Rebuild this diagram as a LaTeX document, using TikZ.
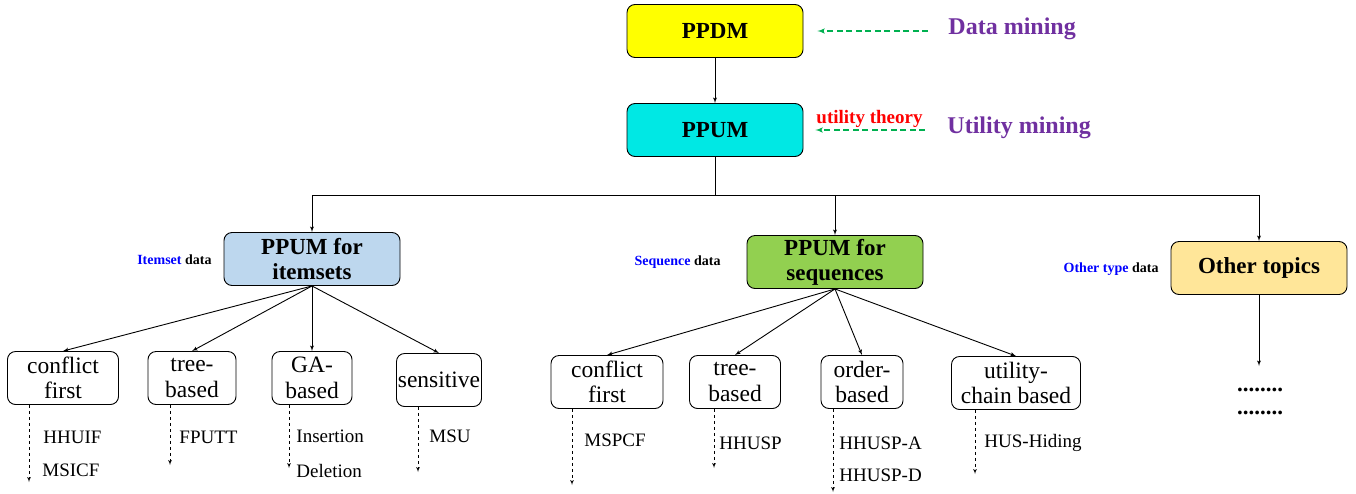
\documentclass[tikz,border=0pt]{standalone}
\usepackage{xcolor}
\usepackage{fontspec}
\setmainfont{Liberation Serif}
\usepackage{tikz}
\usetikzlibrary {positioning}
\usetikzlibrary{arrows}
\definecolor{ppdmyellow}{HTML}{FFFF00}
\definecolor{ppumcyan}{HTML}{00E8E4}
\definecolor{itemblue}{HTML}{BDD7EE}
\definecolor{seqgreen}{HTML}{92D050}
\definecolor{othergold}{HTML}{FFE699}
\definecolor{minepurple}{HTML}{7030A0}
\definecolor{hintgreen}{HTML}{00B050}
\tikzset{tree edge/.style = {->,> = latex'}}
\tikzset{dash edge/.style = {->,> = latex', dashed, line width=0.7pt}}
\tikzset{hint edge/.style = {->,> = latex', hintgreen, line width=1.5pt, dash pattern=on 6pt off 3.5pt}}

\begin{document}
\begin{tikzpicture}[x=1pt,y=-1pt,line width=0.9pt,
    main node/.style={draw,rounded corners=8pt,align=center,inner sep=0pt,minimum width=176pt,minimum height=53pt,font=\bfseries\fontsize{23}{25}\selectfont},
    leaf node/.style={draw,rounded corners=8pt,align=center,inner sep=0pt,minimum height=53pt,font=\fontsize{23.5}{25.5}\selectfont},
    algo/.style={anchor=west,inner sep=0pt,font=\fontsize{19}{21}\selectfont},
    side label/.style={anchor=east,inner sep=0pt,font=\bfseries\fontsize{14}{16}\selectfont},
    mine label/.style={anchor=west,inner sep=0pt,text=minepurple,font=\bfseries\fontsize{24}{26}\selectfont}]
                \useasboundingbox (0,0) rectangle (1356,493);

                % top of the tree
                \node[main node, fill=ppdmyellow] (ppdm) at (715,31) {PPDM};
                \node[main node, fill=ppumcyan] (ppum) at (715,130) {PPUM};
                \node[mine label] (dm) at (948,29) {Data mining};
                \node[mine label] (um) at (947,128) {Utility mining};
                \node[anchor=west,inner sep=0pt,text=red,font=\bfseries\fontsize{19}{21}\selectfont] (ut) at (816,119) {utility theory};

                \path[tree edge] (ppdm) edge[] node {} (ppum);
                \draw[hint edge, shorten <=20pt, shorten >=14pt] (dm.west |- ppdm.east) -- (ppdm.east);
                \draw[hint edge, shorten <=22pt, shorten >=12pt] (um.west |- ppum.east) -- (ppum.east);

                % data types
                \node[main node, fill=itemblue] (items) at (312,259) {PPUM for\\itemsets};
                \node[main node, fill=seqgreen] (seqs) at (835,262) {PPUM for\\sequences};
                \node[main node, fill=othergold] (other) at (1259,268) {Other topics};
                \node[side label] (il) at (212,260) {\textcolor{blue}{Itemset} data};
                \node[side label] (sl) at (721,262) {\textcolor{blue}{Sequence} data};
                \node[side label] (ol) at (1159,269) {\textcolor{blue}{Other type} data};

                \coordinate (fork) at (715,195);
                \draw (ppum) -- (fork);
                \draw[tree edge] (fork) -| (items.north);
                \draw[tree edge] (fork) -| (seqs.north);
                \draw[tree edge] (fork) -| (other.north);

                % itemset methods
                \node[leaf node, minimum width=111pt] (ic1) at (63,378) {conflict\\first};
                \node[leaf node, minimum width=88pt] (ic2) at (192,378) {tree-\\based};
                \node[leaf node, minimum width=80pt] (ic3) at (312,378) {GA-\\based};
                \node[leaf node, minimum width=85pt] (ic4) at (439,380) {sensitive};

                \path[tree edge] (items.south) edge[] node {} (ic1.north);
                \path[tree edge] (items.south) edge[] node {} (ic2.north);
                \path[tree edge] (items.south) edge[] node {} (ic3.north);
                \path[tree edge] (items.south) edge[] node {} (ic4.north);

                % sequence methods
                \node[leaf node, minimum width=112pt] (sc1) at (607,382) {conflict\\first};
                \node[leaf node, minimum width=91pt] (sc2) at (735,382) {tree-\\based};
                \node[leaf node, minimum width=82pt] (sc3) at (862,382) {order-\\based};
                \node[leaf node, minimum width=129pt] (sc4) at (1016,383) {utility-\\chain based};

                \path[tree edge] (seqs.south) edge[] node {} (sc1.north);
                \path[tree edge] (seqs.south) edge[] node {} (sc2.north);
                \path[tree edge] (seqs.south) edge[] node {} (sc3.north);
                \path[tree edge] (seqs.south) edge[] node {} (sc4.north);

                % algorithms
                \node[algo] (a1) at (43,437) {HHUIF};
                \node[algo] (a2) at (42,470) {MSICF};
                \node[algo] (a3) at (179,437) {FPUTT};
                \node[algo] (a4) at (296,436) {Insertion};
                \node[algo] (a5) at (296,471) {Deletion};
                \node[algo] (a6) at (429,436) {MSU};
                \node[algo] (a7) at (584,440) {MSPCF};
                \node[algo] (a8) at (719,443) {HHUSP};
                \node[algo] (a9) at (839,443) {HHUSP-A};
                \node[algo] (a10) at (839,475) {HHUSP-D};
                \node[algo] (a11) at (984,443) {HUS-Hiding};

                \coordinate (ie1) at (29,482);
                \coordinate (ie2) at (170,465);
                \coordinate (ie3) at (289,468);
                \coordinate (ie4) at (418,472);
                \coordinate (se1) at (572,485);
                \coordinate (se2) at (714,468);
                \coordinate (se3) at (833,492);
                \coordinate (se4) at (975,474);
                \draw[dash edge] (ic1.south -| ie1) -- (ie1);
                \draw[dash edge] (ic2.south -| ie2) -- (ie2);
                \draw[dash edge] (ic3.south -| ie3) -- (ie3);
                \draw[dash edge] (ic4.south -| ie4) -- (ie4);
                \draw[dash edge] (sc1.south -| se1) -- (se1);
                \draw[dash edge] (sc2.south -| se2) -- (se2);
                \draw[dash edge] (sc3.south -| se3) -- (se3);
                \draw[dash edge] (sc4.south -| se4) -- (se4);

                % other topics
                \coordinate (oe) at (1259,366);
                \draw[tree edge] (other) -- (oe);
                \node[inner sep=0pt,font=\bfseries\fontsize{23}{25}\selectfont] (dots1) at (1260,390) {........};
                \node[inner sep=0pt,font=\bfseries\fontsize{23}{25}\selectfont] (dots2) at (1260,413) {........};
            \end{tikzpicture}
\end{document}
